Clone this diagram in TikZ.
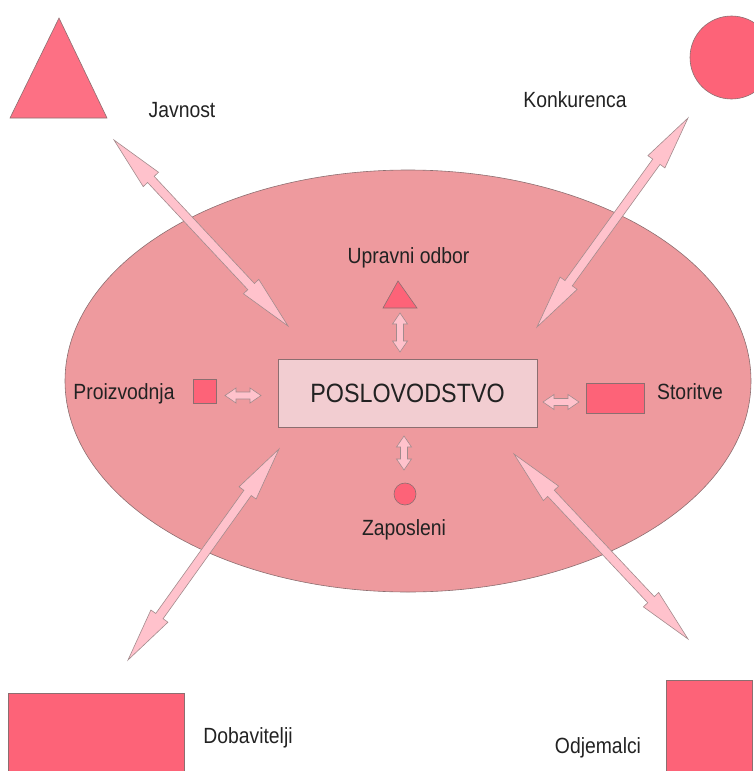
\documentclass[tikz,border=0pt]{standalone}
\usepackage{fontspec}
\setmainfont{Liberation Sans}[FakeStretch=0.88]
\usetikzlibrary{calc}

\definecolor{ovalfill}{RGB}{238,154,158}
\definecolor{shapefill}{RGB}{253,99,120}
\definecolor{trifill}{RGB}{253,112,132}
\definecolor{arrowfill}{RGB}{255,194,204}
\definecolor{boxfill}{RGB}{242,205,209}
\definecolor{edge}{RGB}{140,110,112}
\definecolor{ink}{RGB}{34,34,34}

% double-headed block arrow between two named points
% #1 style, #2 #3 end points, #4 head length, #5 head half width, #6 shaft half width
\newcommand{\biarrow}[6][]{%
  \draw[arrowstyle,#1] (#2)
    -- ($(#2)!#4!(#3)!#5!90:(#3)$)
    -- ($(#2)!#4!(#3)!#6!90:(#3)$)
    -- ($(#3)!#4!(#2)!#6!-90:(#2)$)
    -- ($(#3)!#4!(#2)!#5!-90:(#2)$)
    -- (#3)
    -- ($(#3)!#4!(#2)!#5!90:(#2)$)
    -- ($(#3)!#4!(#2)!#6!90:(#2)$)
    -- ($(#2)!#4!(#3)!#6!-90:(#3)$)
    -- ($(#2)!#4!(#3)!#5!-90:(#3)$)
    -- cycle;}

\begin{document}
\begin{tikzpicture}[x=1pt,y=-1pt,
  arrowstyle/.style={fill=arrowfill,draw=edge!80,line width=0.6pt,line join=miter},
  shapestyle/.style={fill=shapefill,draw=edge,line width=0.6pt},
  label/.style={text=ink,font=\fontsize{22}{26}\selectfont,inner sep=0pt}]
\useasboundingbox (0,0) rectangle (754,771);
\begin{scope}
\clip (0,0) rectangle (754,771);

% organisation
\draw[fill=ovalfill,draw=edge,line width=0.6pt] (408,381) ellipse [x radius=343, y radius=211];

% outer environment shapes
\draw[fill=trifill,draw=edge,line width=0.6pt] (59,18) -- (107,118) -- (10,118) -- cycle;
\node[shapestyle,circle,minimum size=83pt,inner sep=0pt] (konk) at (731.5,57.5) {};
\node[shapestyle,rectangle,minimum width=176pt,minimum height=90pt,inner sep=0pt,anchor=north west] (dob) at (8,693) {};
\node[shapestyle,rectangle,minimum width=86pt,minimum height=100pt,inner sep=0pt,anchor=north west] (odj) at (666,680) {};
\end{scope}

% labels of the environment
\node[label] (javnost) at (182,110) {Javnost};
\node[label] (konkurenca) at (575,100) {Konkurenca};
\node[label] (dobavitelji) at (248,738) {Dobavitelji};
\node[label] (odjemalci) at (598,748) {Odjemalci};

% central management box
\node[fill=boxfill,draw=edge,line width=0.6pt,minimum width=259pt,minimum height=68pt,inner sep=0pt,
      text=ink,font=\fontsize{26.5}{30}\selectfont] (posl) at (407.5,393) {POSLOVODSTVO};

% inner parts
\draw[fill=shapefill,draw=edge,line width=0.6pt] (398,281) -- (417,308) -- (383,308) -- cycle;
\node[label] (upravni) at (408.5,258) {Upravni odbor};
\node[shapestyle,rectangle,minimum width=23pt,minimum height=24pt,inner sep=0pt] (proiz) at (204.5,391) {};
\node[label] (proizvodnja) at (124,394) {Proizvodnja};
\node[shapestyle,rectangle,minimum width=58pt,minimum height=30pt,inner sep=0pt] (stor) at (615,398.5) {};
\node[label] (storitve) at (690,392) {Storitve};
\node[shapestyle,circle,minimum size=22pt,inner sep=0pt] (zap) at (405,494) {};
\node[label] (zaposleni) at (404,530) {Zaposleni};

% end points of the block arrows
\coordinate (j1) at (114,140);  \coordinate (j2) at (288,326);
\coordinate (k1) at (688,118);  \coordinate (k2) at (537,327);
\coordinate (d1) at (279,449);  \coordinate (d2) at (128,660);
\coordinate (o1) at (514,454);  \coordinate (o2) at (688,639);
\coordinate (u1) at (400,313);  \coordinate (u2) at (400,352);
\coordinate (p1) at (225,395.5);\coordinate (p2) at (261,395.5);
\coordinate (s1) at (543,402);  \coordinate (s2) at (579,402);
\coordinate (z1) at (404,436);  \coordinate (z2) at (404,470);

% links with the environment
\biarrow{j1}{j2}{54pt}{10.5pt}{4.5pt}
\biarrow{k1}{k2}{54pt}{10.5pt}{4.5pt}
\biarrow{d1}{d2}{54pt}{10.5pt}{4.5pt}
\biarrow{o1}{o2}{54pt}{10.5pt}{4.5pt}

% links inside the organisation
\biarrow{u1}{u2}{11pt}{7.5pt}{3.5pt}
\biarrow{p1}{p2}{11pt}{7.5pt}{3.5pt}
\biarrow{s1}{s2}{11pt}{7.5pt}{3.5pt}
\biarrow{z1}{z2}{11pt}{7.5pt}{3.5pt}
\end{tikzpicture}
\end{document}
